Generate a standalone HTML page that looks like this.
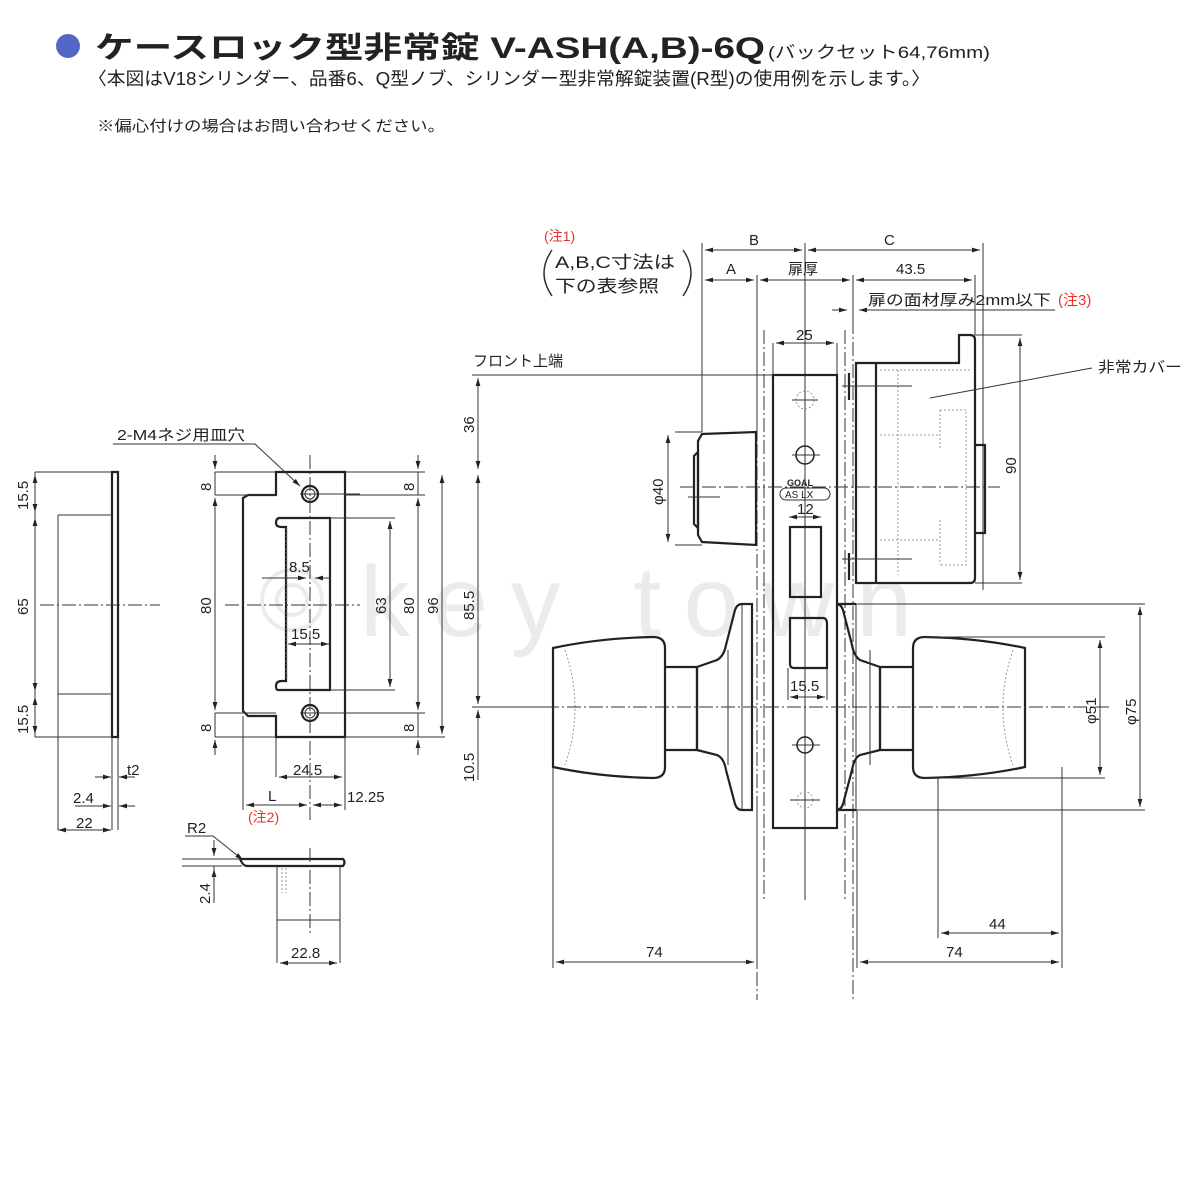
<!DOCTYPE html>
<html><head><meta charset="utf-8"><style>
html,body{margin:0;padding:0;background:#fff;width:1200px;height:1200px;overflow:hidden}
svg{display:block}
text{font-family:"Liberation Sans","Noto Sans CJK JP",sans-serif;fill:#222}
.k{stroke:#222;stroke-width:2.2;fill:none}
.t{stroke:#333;stroke-width:1;fill:none}
.c{stroke:#333;stroke-width:1;fill:none;stroke-dasharray:14 3 2 3}
.d{stroke:#999;stroke-width:1;fill:none;stroke-dasharray:2 2}
.dim{font-size:15px}
</style></head><body>
<svg width="1200" height="1200" viewBox="0 0 1200 1200" xmlns="http://www.w3.org/2000/svg">
<defs>
<marker id="a" viewBox="0 0 10 10" refX="10" refY="5" markerWidth="8" markerHeight="8" orient="auto-start-reverse"><path d="M0,2 L10,5 L0,8 z" fill="#222"/></marker>
</defs>
<!-- watermark -->
<text x="360" y="636" font-size="100" style="fill:#ebebeb" letter-spacing="28" textLength="580" lengthAdjust="spacing">key town</text>
<circle cx="292" cy="600" r="30" fill="none" stroke="#ebebeb" stroke-width="4"/>
<circle cx="292" cy="600" r="15" fill="none" stroke="#ebebeb" stroke-width="4"/>

<!-- header -->
<circle cx="68" cy="46" r="12" fill="#5466c4"/>
<text x="95" y="58" font-size="30" font-weight="bold" textLength="670" lengthAdjust="spacingAndGlyphs">ケースロック型非常錠 V-ASH(A,B)-6Q</text>
<text x="768" y="58" font-size="17" textLength="222" lengthAdjust="spacingAndGlyphs">(バックセット64,76mm)</text>
<text x="88" y="85" font-size="18" textLength="842" lengthAdjust="spacingAndGlyphs">〈本図はV18シリンダー、品番6、Q型ノブ、シリンダー型非常解錠装置(R型)の使用例を示します。〉</text>
<text x="97" y="131" font-size="15" textLength="348" lengthAdjust="spacingAndGlyphs">※偏心付けの場合はお問い合わせください。</text>

<!-- ===== strike side view ===== -->
<rect x="112" y="472" width="6" height="265" class="k"/>
<path class="t" d="M35,472 H112 M58,515 H112 M58,694 H112 M35,737 H112 M58,515 V830 M35,472 V737 M118,737 V830 M112,737 V830"/>
<path class="c" d="M40,605 H160"/>
<path class="t" d="M35,475 V512" marker-start="url(#a)" marker-end="url(#a)"/>
<path class="t" d="M35,518 V691" marker-start="url(#a)" marker-end="url(#a)"/>
<path class="t" d="M35,697 V734" marker-start="url(#a)" marker-end="url(#a)"/>
<g class="dim">
<text transform="translate(28,510) rotate(-90)" >15.5</text>
<text transform="translate(28,615) rotate(-90)">65</text>
<text transform="translate(28,734) rotate(-90)">15.5</text>
</g>
<path class="t" d="M95,777 H111" marker-end="url(#a)"/><path class="t" d="M135,777 H119" marker-end="url(#a)"/>
<text x="127" y="775" class="dim">t2</text>
<path class="t" d="M75,806 H111" marker-end="url(#a)"/><path class="t" d="M135,806 H119" marker-end="url(#a)"/>
<text x="73" y="803" class="dim">2.4</text>
<path class="t" d="M58,830 H111" marker-start="url(#a)" marker-end="url(#a)"/>
<text x="76" y="828" class="dim">22</text>

<!-- ===== strike front view ===== -->
<path class="k" d="M276,472 H345 V737 H276 V716 H248 L243,711 V498 L248,495 H276 Z"/>
<path class="k" d="M278,518 H330 V690 H278 Q276,690 276,686 Q276,681 282,681 H286 V527 H282 Q276,527 276,523 Q276,518 280,518"/>
<path class="d" d="M287,528 V680"/>
<circle cx="310" cy="494" r="8" class="k"/><circle cx="310" cy="494" r="5" class="t"/>
<circle cx="310" cy="713" r="8" class="k"/><circle cx="310" cy="713" r="5" class="t"/>
<path class="c" d="M310,455 V820 M225,605 H360"/>
<path class="t" d="M300,494 H360 M300,713 H360 M330,518 H395 M330,690 H395 M215,472 H276 M215,495 H276 M215,713 H276 M215,737 H276 M345,472 H425 M345,495 H425 M345,713 H425 M345,737 H445"/>
<path class="t" d="M215,455 V469" marker-end="url(#a)"/><path class="t" d="M215,498 V710" marker-start="url(#a)" marker-end="url(#a)"/><path class="t" d="M215,755 V740" marker-end="url(#a)"/>
<path class="t" d="M215,472 V495 M215,713 V737"/>
<path class="t" d="M418,455 V469" marker-end="url(#a)"/><path class="t" d="M418,498 V710" marker-start="url(#a)" marker-end="url(#a)"/><path class="t" d="M418,755 V740" marker-end="url(#a)"/>
<path class="t" d="M418,472 V495 M418,713 V737"/>
<path class="t" d="M390,521 V687" marker-start="url(#a)" marker-end="url(#a)"/>
<path class="t" d="M442,475 V734" marker-start="url(#a)" marker-end="url(#a)"/>
<g class="dim">
<text transform="translate(211,491) rotate(-90)">8</text>
<text transform="translate(211,614) rotate(-90)">80</text>
<text transform="translate(211,732) rotate(-90)">8</text>
<text transform="translate(414,491) rotate(-90)">8</text>
<text transform="translate(414,614) rotate(-90)">80</text>
<text transform="translate(414,732) rotate(-90)">8</text>
<text transform="translate(386,614) rotate(-90)">63</text>
<text transform="translate(438,614) rotate(-90)">96</text>
</g>
<path class="t" d="M262,578 H306" marker-end="url(#a)"/><path class="t" d="M330,578 H315" marker-end="url(#a)"/>
<text x="289" y="572" class="dim">8.5</text>
<path class="t" d="M288,644 H329" marker-start="url(#a)" marker-end="url(#a)"/>
<text x="291" y="639" class="dim">15.5</text>
<path class="t" d="M276,737 V777 M345,737 V810 M243,716 V810"/>
<path class="t" d="M279,777 H342" marker-start="url(#a)" marker-end="url(#a)"/>
<text x="293" y="775" class="dim">24.5</text>
<path class="t" d="M246,805 H307" marker-start="url(#a)" marker-end="url(#a)"/>
<path class="t" d="M313,805 H342" marker-start="url(#a)" marker-end="url(#a)"/>
<text x="268" y="801" class="dim">L</text>
<text x="347" y="802" class="dim">12.25</text>
<text x="248" y="822" font-size="14" style="fill:#e8332a">(注2)</text>
<text x="117" y="440" font-size="15" textLength="128" lengthAdjust="spacingAndGlyphs">2-M4ネジ用皿穴</text>
<path class="t" d="M113,444 H255 L300,486" marker-end="url(#a)"/>

<!-- strike bottom -->
<path class="k" d="M240,859 H343 Q346,862 343,866 H247 Q243,866 240,859"/>
<path class="t" d="M277,866 V963 M340,866 V963 M277,920 H340 M182,859 H242 M182,866 H242"/>
<path class="d" d="M282,868 V893 M286,868 V893"/>
<path class="c" d="M310,848 V935"/>
<text x="187" y="833" class="dim">R2</text>
<path class="t" d="M185,836 H213 L243,860" marker-end="url(#a)"/>
<path class="t" d="M214,840 V856" marker-end="url(#a)"/><path class="t" d="M214,885 V869" marker-end="url(#a)"/><path class="t" d="M214,866 V903"/>
<text transform="translate(210,904) rotate(-90)" class="dim">2.4</text>
<path class="t" d="M280,963 H337" marker-start="url(#a)" marker-end="url(#a)"/>
<text x="291" y="958" class="dim">22.8</text>

<!-- ===== main lock ===== -->
<path class="t" d="M702,243 V432 M757,275 V440 M983,243 V590 M975,275 V335 M853,275 V320 M805,243 V900"/>
<path class="t" d="M705,250 H802" marker-start="url(#a)" marker-end="url(#a)"/>
<path class="t" d="M808,250 H980" marker-start="url(#a)" marker-end="url(#a)"/>
<text x="749" y="245" class="dim">B</text><text x="884" y="245" class="dim">C</text>
<path class="t" d="M705,280 H754" marker-start="url(#a)" marker-end="url(#a)"/>
<path class="t" d="M760,280 H850" marker-start="url(#a)" marker-end="url(#a)"/>
<path class="t" d="M856,280 H972" marker-start="url(#a)" marker-end="url(#a)"/>
<text x="726" y="274" class="dim">A</text>
<text x="788" y="274" font-size="15">扉厚</text>
<text x="896" y="274" class="dim">43.5</text>
<text x="544" y="241" font-size="14" style="fill:#e8332a">(注1)</text>
<path class="t" d="M552,250 Q536,273 552,296 M683,250 Q699,273 683,296" style="stroke-width:1.5"/>
<text x="555" y="268" font-size="17" textLength="120" lengthAdjust="spacingAndGlyphs">A,B,C寸法は</text>
<text x="555" y="292" font-size="17" textLength="104" lengthAdjust="spacingAndGlyphs">下の表参照</text>
<text x="868" y="305" font-size="15" textLength="183" lengthAdjust="spacingAndGlyphs">扉の面材厚み2mm以下</text>
<text x="1058" y="305" font-size="15" style="fill:#e8332a">(注3)</text>
<path class="t" d="M865,310 H1055"/>
<path class="t" d="M832,310 H847" marker-end="url(#a)"/><path class="t" d="M870,310 H859" marker-end="url(#a)"/>

<path class="c" d="M757,290 V1000"/>
<path class="c" d="M764,330 V900"/>
<path class="c" d="M845,330 V900"/>
<path class="c" d="M853,320 V1000"/>
<rect x="773" y="375" width="64" height="453" class="k"/>
<path class="t" d="M773,343 V375 M837,343 V375"/>
<path class="t" d="M776,343 H834" marker-start="url(#a)" marker-end="url(#a)"/>
<text x="796" y="340" class="dim">25</text>
<circle cx="805" cy="400" r="9" class="d"/><path class="t" d="M792,400 H818"/>
<circle cx="805" cy="455" r="9" class="k" style="stroke-width:1.5"/><path class="t" d="M792,455 H820 M805,442 V468"/>
<text x="787" y="486" font-size="9" font-weight="bold">GOAL</text>
<rect x="780" y="488" width="50" height="12" rx="6" class="t"/>
<text x="785" y="498" font-size="10">AS LX</text>
<path class="t" d="M789,517 H821" marker-start="url(#a)" marker-end="url(#a)"/>
<text x="797" y="514" class="dim">12</text>
<rect x="790" y="527" width="31" height="70" class="k"/>
<path class="k" d="M790,618 H823 Q827,618 827,624 V668 H794 Q790,668 790,664 Z"/>
<path class="t" d="M788,668 V700 M827,668 V700"/>
<path class="t" d="M790,697 H825" marker-start="url(#a)" marker-end="url(#a)"/>
<text x="790" y="691" class="dim">15.5</text>
<circle cx="805" cy="745" r="8" class="k" style="stroke-width:1.5"/><path class="t" d="M792,745 H820"/>
<circle cx="805" cy="800" r="8" class="d"/><path class="t" d="M790,800 H820"/>
<path class="t" d="M472,375 H773"/>
<text x="473" y="366" font-size="15" textLength="90" lengthAdjust="spacingAndGlyphs">フロント上端</text>
<path class="t" d="M478,378 V469" marker-start="url(#a)" marker-end="url(#a)"/>
<path class="t" d="M478,475 V704" marker-start="url(#a)" marker-end="url(#a)"/>
<path class="t" d="M478,710 V780" marker-start="url(#a)"/>
<path class="t" d="M472,707 H553"/>
<g class="dim">
<text transform="translate(474,433) rotate(-90)">36</text>
<text transform="translate(474,620) rotate(-90)">85.5</text>
<text transform="translate(474,782) rotate(-90)">10.5</text>
</g>
<path class="k" d="M702,434 L756,432 V545 L702,542 L698,535 V441 Z"/>
<path class="k" d="M698,452 V528 L694,524 V456 Z"/>
<path class="t" d="M675,432 H702 M675,545 H702"/>
<path class="t" d="M668,435 V542" marker-start="url(#a)" marker-end="url(#a)"/>
<text transform="translate(663,505) rotate(-90)" class="dim">φ40</text>
<path class="c" d="M680,487 H1000"/>
<path class="t" d="M688,497 H720"/>
<path class="k" d="M856,363 H959 V335 H970 Q975,335 975,340 V578 Q975,583 970,583 H856 Z"/>
<path class="k" d="M876,363 V583"/>
<path class="k" d="M975,445 H985 V533 H975"/>
<path class="k" d="M849,373 V400 M849,553 V580"/>
<path class="d" d="M880,370 H970 M898,370 V575 M880,435 H940 M880,540 H940 M940,410 H966 V565 H940 M940,410 V450 M940,520 V565"/>
<path class="t" d="M842,386 H912 M842,559 H912"/>
<path class="t" d="M975,335 H1022 M975,583 H1022"/>
<path class="t" d="M1020,338 V580" marker-start="url(#a)" marker-end="url(#a)"/>
<text transform="translate(1016,474) rotate(-90)" class="dim">90</text>
<path class="t" d="M930,398 L1092,368"/>
<text x="1098" y="372" font-size="15" textLength="84" lengthAdjust="spacingAndGlyphs">非常カバー</text>

<path class="k" d="M553,648 Q600,638 653,637 Q665,637 665,648 V767 Q665,778 653,778 Q600,777 553,767 Z"/>
<path class="d" d="M565,650 Q585,708 565,765"/>
<path class="k" d="M665,667 H697 V750 H665"/>
<path class="k" d="M697,750 V667 L717,660 Q724,656 726,645 L735,610 Q737,604 742,604 H752 V810 H742 Q737,810 735,804 L726,770 Q724,758 717,755 L697,750"/>
<path class="t" d="M742,604 V810 M728,650 V765"/>
<path class="k" d="M1025,648 Q978,638 925,637 Q913,637 913,648 V767 Q913,778 925,778 Q978,777 1025,767 Z"/>
<path class="d" d="M1013,650 Q993,708 1013,765"/>
<path class="k" d="M913,667 H880 V750 H913"/>
<path class="k" d="M880,750 V667 L860,660 Q854,656 852,645 L843,610 Q841,604 836,604 H856 M880,750 L860,755 Q854,758 852,770 L843,804 Q841,810 836,810 H856"/>
<path class="t" d="M856,604 V810 M870,650 V765"/>
<path class="c" d="M545,707 H1110"/>
<path class="t" d="M856,604 H1145 M856,810 H1145 M925,637 H1105 M925,778 H1105"/>
<path class="t" d="M1140,607 V807" marker-start="url(#a)" marker-end="url(#a)"/>
<path class="t" d="M1100,640 V775" marker-start="url(#a)" marker-end="url(#a)"/>
<text transform="translate(1136,725) rotate(-90)" class="dim">φ75</text>
<text transform="translate(1096,724) rotate(-90)" class="dim">φ51</text>
<path class="t" d="M553,767 V968 M757,810 V968 M857,810 V968 M938,778 V938 M1062,767 V968"/>
<path class="t" d="M556,962 H754" marker-start="url(#a)" marker-end="url(#a)"/>
<text x="646" y="957" class="dim">74</text>
<path class="t" d="M860,962 H1059" marker-start="url(#a)" marker-end="url(#a)"/>
<text x="946" y="957" class="dim">74</text>
<path class="t" d="M941,933 H1059" marker-start="url(#a)" marker-end="url(#a)"/>
<text x="989" y="929" class="dim">44</text>
</svg>
</body></html>
